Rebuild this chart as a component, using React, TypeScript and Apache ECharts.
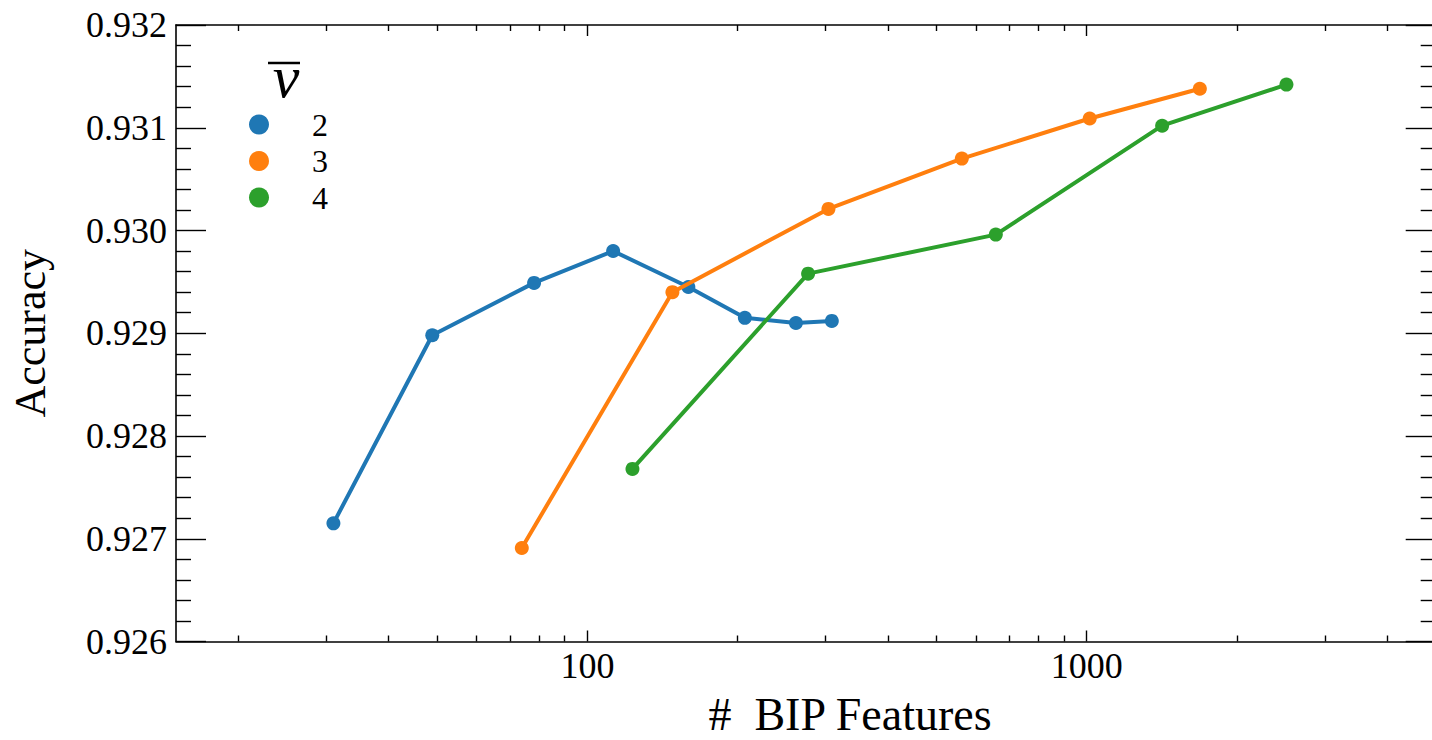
import React, { useEffect, useRef } from "react";
import * as echarts from "echarts";

const seriesNames = ["2", "3", "4"];
const seriesColors = ["#1f77b4", "#ff7f0e", "#2ca02c"];

const blueX = [31.0, 48.9, 78.2, 112.6, 159.3, 206.7, 261.6, 308.7];
const blueY = [0.92715, 0.92898, 0.92949, 0.9298, 0.92945, 0.92915, 0.9291, 0.92912];

const orangeX = [73.9, 148.0, 303.9, 562.2, 1014, 1685];
const orangeY = [0.92691, 0.9294, 0.93021, 0.9307, 0.93109, 0.93138];

const greenX = [123.1, 276.7, 657.6, 1416, 2512];
const greenY = [0.92768, 0.92958, 0.92996, 0.93102, 0.93142];

const xMajorTicks = [100, 1000];
const xMinorTicks = [20, 30, 40, 50, 60, 70, 80, 90, 200, 300, 400, 500, 600, 700, 800, 900, 2000, 3000, 4000];
const xLimits = [15, 5000];
const yLimits = [0.926, 0.932];
const yStep = 0.001;

const FONT = "'Liberation Serif', 'Times New Roman', serif";

function zip(xs: number[], ys: number[]) {
  return xs.map((x, i) => [x, ys[i]]);
}

export default function App() {
  const ref = useRef<HTMLDivElement>(null);

  useEffect(() => {
    if (!ref.current) return;
    const chart = echarts.init(ref.current, undefined, { renderer: "svg" });

    const black = "#000";
    const xAxisBase = (position: "top" | "bottom", major: boolean, showLine: boolean) => ({
      type: "log" as const,
      logBase: 10,
      min: xLimits[0],
      max: xLimits[1],
      gridIndex: 0,
      position,
      axisLine: { show: showLine, lineStyle: { color: black, width: 1.6 } },
      axisTick: {
        show: true,
        inside: true,
        length: major ? 11 : 6,
        customValues: major ? xMajorTicks : xMinorTicks,
        lineStyle: { color: black, width: 1.4 },
      },
      axisLabel: {
        show: major && position === "bottom",
        customValues: xMajorTicks,
        fontFamily: FONT,
        fontSize: 36,
        color: black,
        margin: 6,
        formatter: (v: number) => String(Math.round(v)),
      },
      splitLine: { show: false },
      minorTick: { show: false },
      minorSplitLine: { show: false },
    });

    const yAxisBase = (position: "left" | "right") => ({
      type: "value" as const,
      min: yLimits[0],
      max: yLimits[1],
      interval: yStep,
      position,
      axisLine: { show: position === "left", lineStyle: { color: black, width: 1.6 } },
      axisTick: { show: true, inside: true, length: 30, lineStyle: { color: black, width: 1.4 } },
      minorTick: { show: true, splitNumber: 5, length: 15, lineStyle: { color: black, width: 1.4 } },
      axisLabel: {
        show: position === "left",
        fontFamily: FONT,
        fontSize: 36,
        color: black,
        margin: 9,
        formatter: (v: number) => v.toFixed(3),
      },
      splitLine: { show: false },
      name: position === "left" ? "Accuracy" : "",
      nameLocation: "middle" as const,
      nameGap: 124,
      nameTextStyle: { fontFamily: FONT, fontSize: 44, color: black },
    });

    const xs = [blueX, orangeX, greenX];
    const ys = [blueY, orangeY, greenY];

    chart.setOption({
      animation: false,
      backgroundColor: "#fff",
      grid: {
        left: 176,
        top: 25,
        width: 1259.7,
        height: 616.5,
        containLabel: false,
        outerBoundsMode: "none",
      },
      xAxis: [
        xAxisBase("bottom", true, true),
        xAxisBase("bottom", false, false),
        xAxisBase("top", true, true),
        xAxisBase("top", false, false),
      ],
      yAxis: [yAxisBase("left"), yAxisBase("right")],
      legend: {
        data: seriesNames,
        orient: "vertical",
        left: 244,
        top: 103.5,
        icon: "circle",
        itemWidth: 20,
        itemHeight: 20,
        itemGap: 4.5,
        selectedMode: false,
        textStyle: { fontFamily: FONT, fontSize: 32, color: black, padding: [0, 0, 0, 38] },
      },
      graphic: [
        {
          type: "text",
          x: 850,
          y: 714,
          style: {
            text: "#  BIP Features",
            font: `46px ${FONT}`,
            fill: black,
            align: "center",
            verticalAlign: "middle",
          },
        },
        {
          type: "text",
          x: 286,
          y: 77,
          style: {
            text: "v",
            font: `italic 60px ${FONT}`,
            fill: black,
            align: "center",
            verticalAlign: "middle",
          },
        },
        {
          type: "line",
          shape: { x1: 268, y1: 63, x2: 300, y2: 63 },
          style: { stroke: black, lineWidth: 2.5 },
        },
      ],
      series: seriesNames.map((name, i) => ({
        name,
        type: "line",
        xAxisIndex: 0,
        yAxisIndex: 0,
        data: zip(xs[i], ys[i]),
        symbol: "circle",
        symbolSize: 14,
        showSymbol: true,
        color: seriesColors[i],
        itemStyle: { color: seriesColors[i] },
        lineStyle: { color: seriesColors[i], width: 4 },
        emphasis: { disabled: true },
        z: 2 + i,
      })),
    });

    return () => chart.dispose();
  }, []);

  return (
    <div
      ref={ref}
      style={{ position: "fixed", left: 0, top: 0, width: 1432, height: 740, background: "#fff" }}
    />
  );
}
